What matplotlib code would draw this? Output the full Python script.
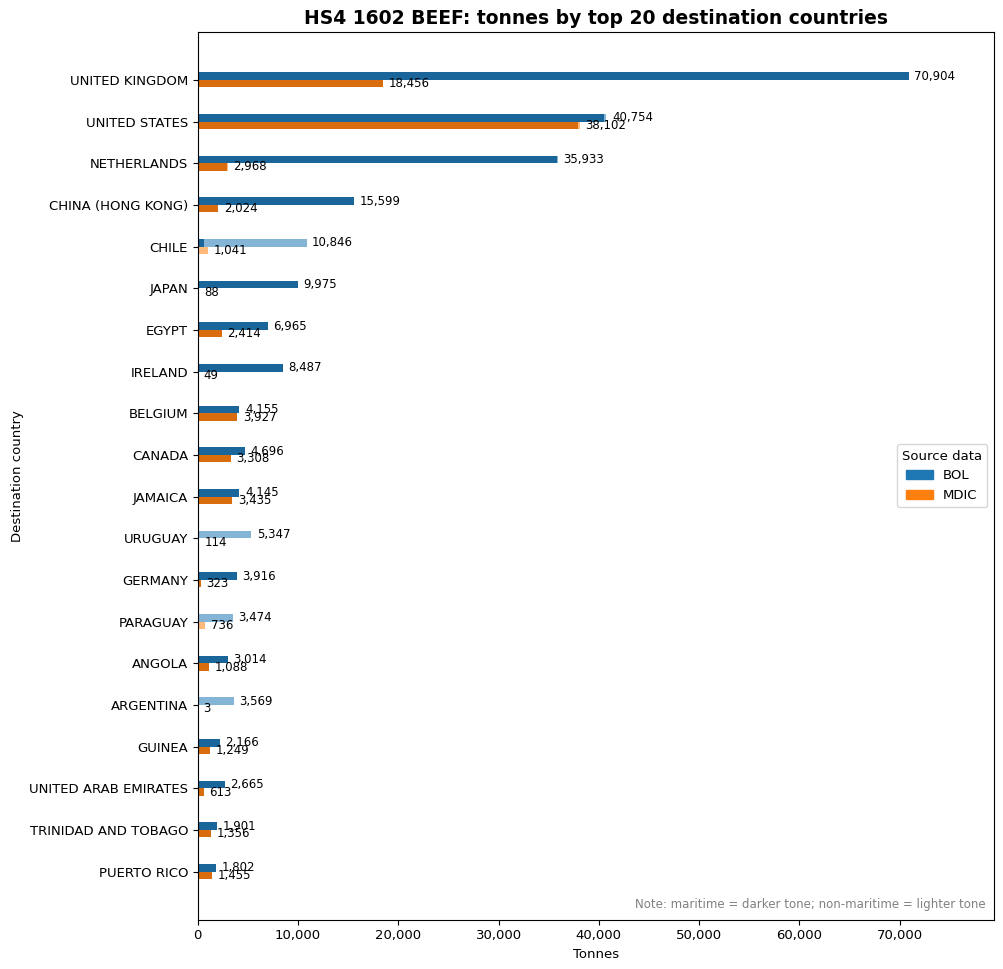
import matplotlib.pyplot as plt
import numpy as np
from matplotlib.patches import Patch


countries = ["UNITED KINGDOM", "UNITED STATES", "NETHERLANDS", "CHINA (HONG KONG)", "CHILE",
             "JAPAN", "EGYPT", "IRELAND", "BELGIUM", "CANADA", "JAMAICA", "URUGUAY", "GERMANY",
             "PARAGUAY", "ANGOLA", "ARGENTINA", "GUINEA", "UNITED ARAB EMIRATES",
             "TRINIDAD AND TOBAGO", "PUERTO RICO"]

# tonnes, split into maritime / non-maritime
bol_mar = [70904, 40500, 35850, 15599, 600, 9975, 6965, 8487, 4155, 4696, 4145, 0, 3916,
           0, 3014, 0, 2166, 2665, 1901, 1802]
bol_non = [0, 254, 83, 0, 10246, 0, 0, 0, 0, 0, 0, 5347, 0, 3474, 0, 3569, 0, 0, 0, 0]
mdic_mar = [18456, 37950, 2870, 2024, 0, 88, 2414, 49, 3927, 3308, 3435, 0, 323, 0, 1088,
            0, 1249, 613, 1356, 1455]
mdic_non = [0, 152, 98, 0, 1041, 0, 0, 0, 0, 0, 0, 114, 0, 736, 0, 3, 0, 0, 0, 0]

blue = np.array([31, 119, 180]) / 255
orange = np.array([255, 127, 14]) / 255


def dark(c):
    return c * 0.85


def light(c):
    return c + (1 - c) * 0.45


y = np.arange(len(countries))
h = 0.18

fig, ax = plt.subplots(figsize=(10.04, 9.69), dpi=100)

bol_mar = np.array(bol_mar)
bol_non = np.array(bol_non)
mdic_mar = np.array(mdic_mar)
mdic_non = np.array(mdic_non)

ax.barh(y - h / 2, bol_mar, height=h, color=dark(blue))
ax.barh(y - h / 2, bol_non, height=h, left=bol_mar, color=light(blue))
ax.barh(y + h / 2, mdic_mar, height=h, color=dark(orange))
ax.barh(y + h / 2, mdic_non, height=h, left=mdic_mar, color=light(orange))

bol_tot = bol_mar + bol_non
mdic_tot = mdic_mar + mdic_non
for i in range(len(countries)):
    ax.annotate(f"{bol_tot[i]:,}", (bol_tot[i], y[i] - h / 2), xytext=(4, 0),
                textcoords="offset points", va="center", fontsize=8.5)
    ax.annotate(f"{mdic_tot[i]:,}", (mdic_tot[i], y[i] + h / 2), xytext=(4, 0),
                textcoords="offset points", va="center", fontsize=8.5)

ax.set_yticks(y)
ax.set_yticklabels(countries, fontsize=9.5)
ax.set_ylim(20.15, -1.15)
ax.set_xlim(0, max(bol_tot.max(), mdic_tot.max()) * 1.12)
ax.xaxis.set_major_formatter(plt.FuncFormatter(lambda v, p: f"{int(v):,}"))
ax.tick_params(axis='x', labelsize=9.5)

ax.set_title("HS4 1602 BEEF: tonnes by top 20 destination countries", fontsize=13.5, fontweight="bold")
ax.set_xlabel("Tonnes", fontsize=9.5)
ax.set_ylabel("Destination country", fontsize=9.5)

handles = [Patch(color=blue, label="BOL"), Patch(color=orange, label="MDIC")]
ax.legend(handles=handles, title="Source data", loc="center right", fontsize=9.5, title_fontsize=9.5)

ax.text(0.99, 0.01, "Note: maritime = darker tone; non-maritime = lighter tone", transform=ax.transAxes,
        ha="right", va="bottom", fontsize=8.5, color="gray")

fig.subplots_adjust(left=0.197, right=0.99, top=0.967, bottom=0.051)
plt.savefig("out.png")
